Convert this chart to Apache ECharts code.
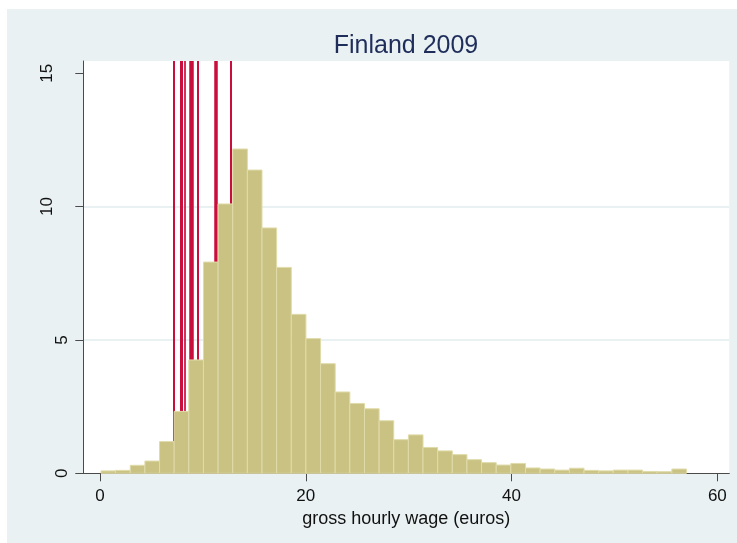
<!DOCTYPE html>
<html><head><meta charset="utf-8">
<script src="https://cdn.jsdelivr.net/npm/echarts@6/dist/echarts.min.js"></script>
<style>html,body{margin:0;padding:0;background:#fff;width:737px;height:543px;overflow:hidden}
#main{position:absolute;left:7px;top:9px;width:730px;height:534px}</style></head>
<body><div id="main"></div>
<script>
const titleText = 'Finland 2009';
const xAxisTitle = 'gross hourly wage (euros)';
// histogram bins (euros)
const binStart = 0.1;
const binWidth = 1.4225;
// density (percent) per bin
const density = [0.09,0.11,0.30,0.46,1.19,2.32,4.25,7.92,10.10,12.16,11.37,9.20,7.72,5.96,5.05,4.11,3.05,2.62,2.42,1.97,1.26,1.44,0.97,0.84,0.70,0.51,0.40,0.31,0.37,0.20,0.16,0.12,0.19,0.11,0.09,0.12,0.12,0.07,0.06,0.16];
// reference (minimum wage) lines
const refLines = [7.19,7.86,8.25,8.85,9.50,11.30,12.71];
const refLineWidths = [2,3,1.7,4.5,2,3.5,2];
const xTicks = [0,20,40,60];
const yTicks = [0,5,10,15];

const bins = density.map((d,i)=>[binStart+i*binWidth, binStart+(i+1)*binWidth, d]);
const chart = echarts.init(document.getElementById('main'));
const axisColor = '#4a4a4a';
chart.setOption({
  backgroundColor: '#e9f1f3',
  animation: false,
  title: {text: titleText, left: 394, top: 20, textAlign: 'center',
    textStyle: {fontFamily: 'Liberation Sans', fontSize: 25, fontWeight: 'normal', color: '#1f2d5a'}},
  grid: {left: 76.3, right: 7.7, top: 52, bottom: 69.7, show: true, backgroundColor: '#ffffff', borderWidth: 0},
  xAxis: {type: 'value', min: -1.62, max: 61.16,
    name: xAxisTitle, nameLocation: 'middle', nameGap: 32,
    nameTextStyle: {fontFamily: 'Liberation Sans', fontSize: 18, color: '#111', verticalAlign: 'top'},
    axisLine: {show: true, onZero: false, lineStyle: {color: axisColor, width: 1}},
    axisTick: {show: true, length: 8, customValues: xTicks, lineStyle: {color: axisColor}},
    axisLabel: {customValues: xTicks, margin: 15, fontFamily: 'Liberation Sans', fontSize: 17, color: '#111'},
    splitLine: {show: false}},
  yAxis: {type: 'value', min: 0, max: 15.46, interval: 5,
    axisLine: {show: true, onZero: false, lineStyle: {color: axisColor, width: 1}},
    axisTick: {show: true, length: 8, customValues: yTicks, lineStyle: {color: axisColor}},
    axisLabel: {customValues: yTicks, rotate: 90, margin: 12, fontFamily: 'Liberation Sans', fontSize: 17, color: '#111',
      formatter: v => v >= 10 ? '{w|' + v + '}' : '{n|' + v + '}',
      rich: {w: {fontFamily: 'Liberation Sans', fontSize: 17, color: '#111', padding: [0,0,15,0]},
             n: {fontFamily: 'Liberation Sans', fontSize: 17, color: '#111'}}},
    splitLine: {show: true, showMinLine: false, showMaxLine: false, lineStyle: {color: '#e3ecef', width: 1.5}}},
  series: [
    {type: 'line', data: [], z: 1, silent: true,
      markLine: {z: 1, silent: true, symbol: 'none', label: {show: false},
        data: refLines.map((v,i)=>({xAxis: v, lineStyle: {color: '#c90d3c', width: refLineWidths[i], type: 'solid'}}))}},
    {type: 'custom', z: 3, data: bins, encode: {x: [0,1], y: 2},
      renderItem: (params, api) => {
        const p0 = api.coord([api.value(0), api.value(2)]);
        const p1 = api.coord([api.value(1), 0]);
        return {type: 'rect', shape: {x: p0[0], y: p0[1], width: p1[0]-p0[0], height: p1[1]-p0[1]},
          style: {fill: '#c9c283', stroke: '#e0dba9', lineWidth: 1}};
      }}
  ]
});
</script></body></html>
